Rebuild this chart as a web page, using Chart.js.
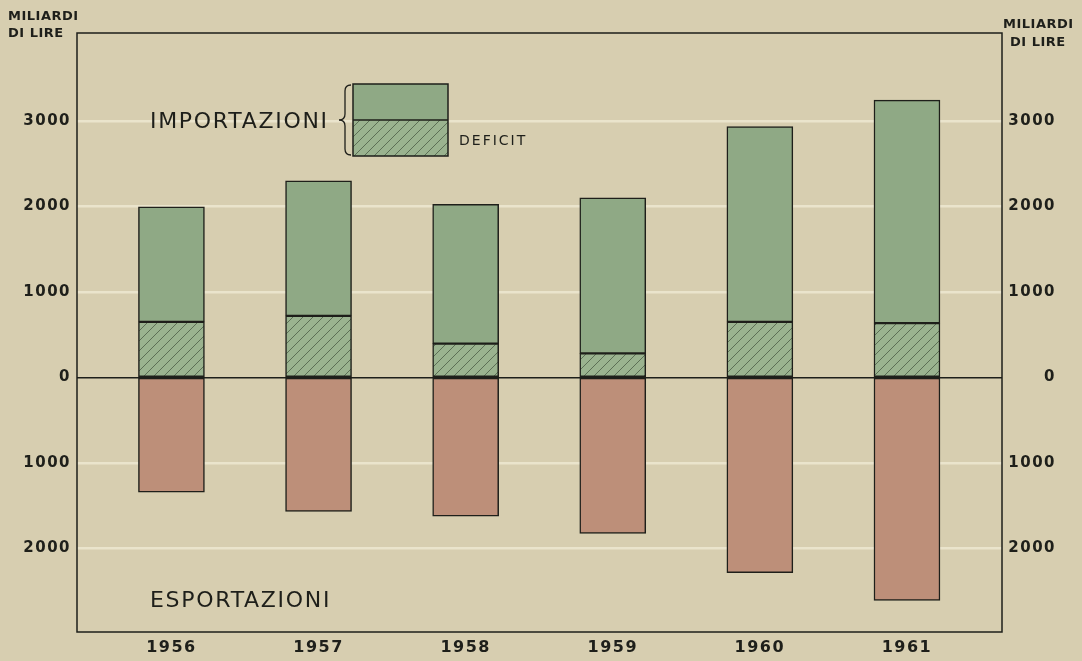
<!DOCTYPE html>
<html lang="it">
<head>
<meta charset="UTF-8">
<title>Importazioni ed esportazioni 1956-1961</title>
<script src="https://cdn.jsdelivr.net/npm/chart.js"></script>
<style>
  html, body { margin: 0; padding: 0; background: #d7ceb0; }
  #wrap { width: 1082px; height: 661px; position: relative; }
</style>
</head>
<body>
<div id="wrap"><canvas id="chart"></canvas></div>
<script>
// miliardi di lire
const years = [1956, 1957, 1958, 1959, 1960, 1961];
const imports = [1995, 2300, 2025, 2100, 2935, 3245];
const exports = [1345, 1570, 1625, 1825, 2285, 2610];
const deficit = [650, 720, 395, 280, 650, 635];
const yTicks = [-2000, -1000, 0, 1000, 2000, 3000];

const INK = '#1e1f1a';
const GREEN = '#8fa985';
const BROWN = '#bd8f79';
const FONT = '"DejaVu Sans", sans-serif';

const canvas = document.getElementById('chart');

// diagonal hatching for the deficit part of the bars
function makeHatch(ctx) {
  const c = document.createElement('canvas');
  c.width = c.height = 10;
  const g = c.getContext('2d');
  g.fillStyle = '#9ab38f';
  g.fillRect(0, 0, 10, 10);
  g.strokeStyle = '#55684e';
  g.lineWidth = 0.9;
  g.beginPath();
  g.moveTo(-1, 11); g.lineTo(11, -1);
  g.moveTo(-1, 1); g.lineTo(1, -1);
  g.moveTo(9, 11); g.lineTo(11, 9);
  g.stroke();
  return ctx.createPattern(c, 'repeat');
}
const hatch = makeHatch(canvas.getContext('2d'));

const barStyle = {
  borderColor: INK,
  borderWidth: 1.5,
  borderSkipped: false,
  barThickness: 66,
  grouped: false
};

const tickFont = { family: FONT, size: 15, weight: 'bold' };

const decor = {
  id: 'decor',
  beforeDraw(chart) {
    // lettering on the axes is widely spaced
    chart.ctx.letterSpacing = '1.5px';
  },
  afterDraw(chart) {
    const ctx = chart.ctx;
    const a = chart.chartArea;
    ctx.save();

    // plot frame
    ctx.strokeStyle = INK;
    ctx.lineWidth = 1.5;
    ctx.strokeRect(a.left, a.top, a.right - a.left, a.bottom - a.top);

    ctx.fillStyle = INK;
    ctx.textBaseline = 'alphabetic';
    ctx.textAlign = 'left';

    // unit captions
    ctx.font = 'bold 13px ' + FONT;
    ctx.letterSpacing = '0.5px';
    ctx.fillText('MILIARDI', 8, a.top - 13);
    ctx.fillText('DI LIRE', 8, a.top + 4);
    ctx.fillText('MILIARDI', a.right + 1, a.top - 5);
    ctx.fillText('DI LIRE', a.right + 8, a.top + 13);

    // section labels
    ctx.font = '22px ' + FONT;
    ctx.letterSpacing = '1.7px';
    ctx.fillText('IMPORTAZIONI', a.left + 73, a.top + 95);
    ctx.fillText('ESPORTAZIONI', a.left + 73, a.top + 574);

    // key: plain green over hatched deficit
    const kx = a.left + 276, ky = a.top + 51, kw = 95, kh = 36;
    ctx.fillStyle = GREEN;
    ctx.fillRect(kx, ky, kw, kh);
    ctx.fillStyle = hatch;
    ctx.fillRect(kx, ky + kh, kw, kh);
    ctx.strokeStyle = INK;
    ctx.lineWidth = 1.5;
    ctx.strokeRect(kx, ky, kw, kh * 2);
    ctx.beginPath();
    ctx.moveTo(kx, ky + kh);
    ctx.lineTo(kx + kw, ky + kh);
    ctx.stroke();

    // brace to the left of the key
    const bx = kx - 8, top = ky + 1, mid = ky + kh, bot = ky + kh * 2 - 1;
    ctx.lineWidth = 1.3;
    ctx.beginPath();
    ctx.moveTo(bx + 6, top);
    ctx.quadraticCurveTo(bx, top, bx, top + 6);
    ctx.lineTo(bx, mid - 6);
    ctx.quadraticCurveTo(bx, mid, bx - 6, mid);
    ctx.quadraticCurveTo(bx, mid, bx, mid + 6);
    ctx.lineTo(bx, bot - 6);
    ctx.quadraticCurveTo(bx, bot, bx + 6, bot);
    ctx.stroke();

    ctx.fillStyle = INK;
    ctx.font = '14px ' + FONT;
    ctx.letterSpacing = '2px';
    ctx.fillText('DEFICIT', kx + kw + 11, ky + 61);

    ctx.restore();
    ctx.letterSpacing = '0px';
  }
};

new Chart(canvas, {
  type: 'bar',
  data: {
    datasets: [
      {
        label: 'Esportazioni',
        data: years.map((x, i) => ({ x, y: [-exports[i], 0] })),
        backgroundColor: BROWN,
        ...barStyle
      },
      {
        label: 'Deficit',
        data: years.map((x, i) => ({ x, y: [0, deficit[i]] })),
        backgroundColor: hatch,
        ...barStyle
      },
      {
        label: 'Importazioni',
        data: years.map((x, i) => ({ x, y: [deficit[i], imports[i]] })),
        backgroundColor: GREEN,
        ...barStyle
      }
    ]
  },
  options: {
    responsive: true,
    maintainAspectRatio: false,
    animation: false,
    layout: { padding: { top: 33, right: 26, left: 0, bottom: 0 } },
    plugins: { legend: { display: false }, tooltip: { enabled: false } },
    scales: {
      x: {
        type: 'linear',
        offset: false,
        min: 1955.358,
        max: 1961.646,
        afterBuildTicks: s => { s.ticks = years.map(v => ({ value: v })); },
        afterFit: s => { s.height = 29; },
        ticks: {
          callback: v => String(v),
          font: { family: FONT, size: 16, weight: 'bold' },
          color: INK,
          padding: 6,
          autoSkip: false,
          maxRotation: 0
        },
        grid: { display: false, drawTicks: false },
        border: { display: false }
      },
      y: {
        position: 'left',
        min: -2980,
        max: 4030,
        afterBuildTicks: s => { s.ticks = yTicks.map(v => ({ value: v })); },
        afterFit: s => { s.width = 77; },
        ticks: {
          callback: v => String(Math.abs(v)),
          font: tickFont,
          color: INK,
          padding: 6
        },
        grid: {
          drawTicks: false,
          color: c => c.tick.value === 0 ? INK : 'rgba(244,239,220,0.65)',
          lineWidth: c => c.tick.value === 0 ? 1.6 : 2.5
        },
        border: { display: false }
      },
      y2: {
        position: 'right',
        min: -2980,
        max: 4030,
        afterBuildTicks: s => { s.ticks = yTicks.map(v => ({ value: v })); },
        afterFit: s => { s.width = 54; },
        ticks: {
          callback: v => String(Math.abs(v)),
          font: tickFont,
          color: INK,
          padding: 6,
          crossAlign: 'far'
        },
        grid: { display: false, drawTicks: false },
        border: { display: false }
      }
    }
  },
  plugins: [decor]
});
</script>
</body>
</html>
